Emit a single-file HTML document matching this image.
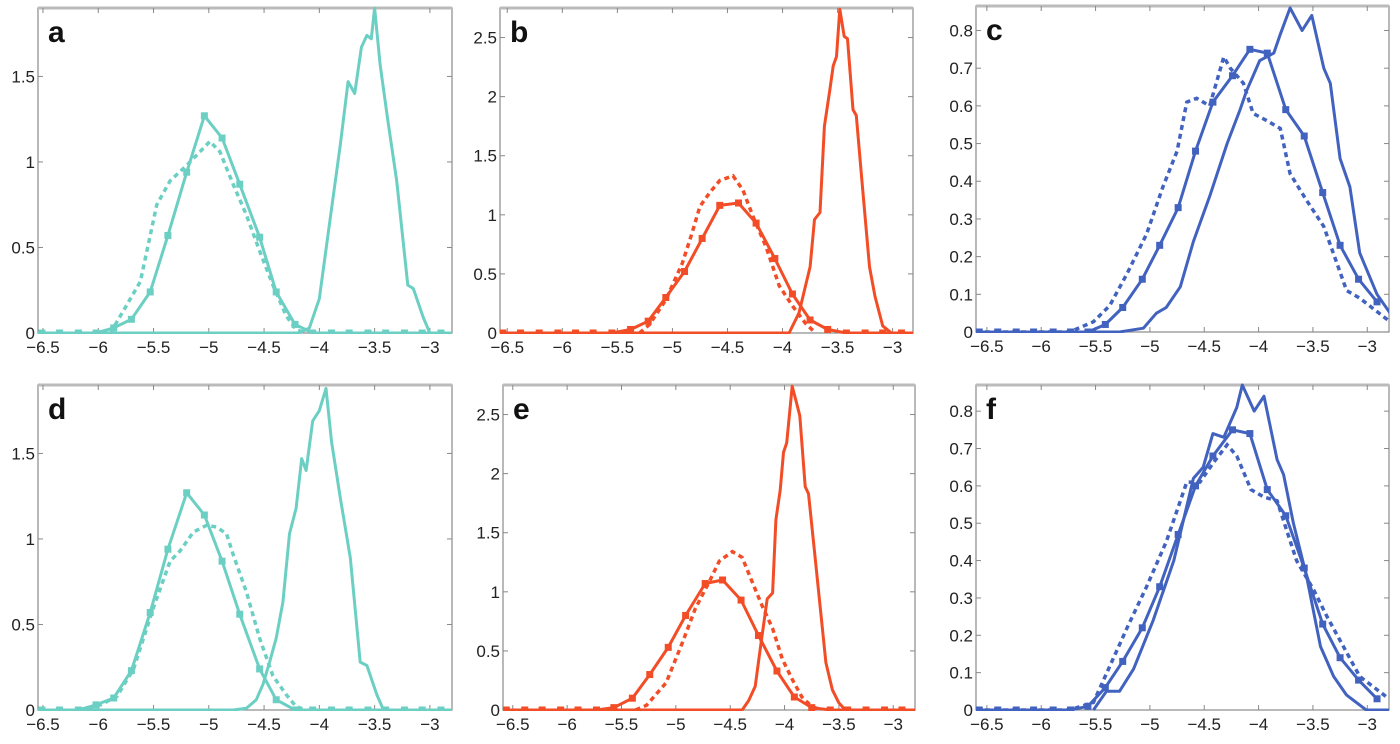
<!DOCTYPE html>
<html><head><meta charset="utf-8"><style>
body{margin:0;background:#fff;width:1400px;height:744px;overflow:hidden}
svg{display:block;font-family:"Liberation Sans",sans-serif}
</style></head><body>
<svg id="chart" width="1400" height="744"></svg>
<script>
// ---- data ----
const tealMarkX=[-6.51,-6.35,-6.18,-6.02,-5.86,-5.70,-5.53,-5.37,-5.20,-5.04,-4.88,-4.72,-4.54,-4.39,-4.22,-4.06,-3.89,-3.73,-3.56,-3.40,-3.23,-3.07,-2.90];
const aMarkY=[0,0,0,0,0.03,0.08,0.24,0.57,0.94,1.27,1.14,0.87,0.56,0.24,0.05,0,0,0,0,0,0,0,0];
const aDashX=[-5.89,-5.80,-5.62,-5.47,-5.35,-5.20,-5.08,-4.99,-4.90,-4.78,-4.66,-4.54,-4.42,-4.30,-4.21,-4.12];
const aDashY=[0,0.1,0.3,0.75,0.89,0.98,1.06,1.12,1.06,0.87,0.69,0.48,0.28,0.1,0.02,0];
const aSharpX=[-6.55,-4.18,-4.09,-4.00,-3.91,-3.81,-3.74,-3.68,-3.62,-3.57,-3.53,-3.50,-3.45,-3.38,-3.30,-3.20,-3.15,-3.06,-3.00,-2.80];
const aSharpY=[0,0,0.03,0.2,0.63,1.1,1.47,1.4,1.67,1.74,1.72,1.9,1.57,1.24,0.89,0.28,0.26,0.09,0,0];

const redMarkX=[-6.54,-6.38,-6.21,-6.04,-5.88,-5.72,-5.55,-5.38,-5.22,-5.06,-4.89,-4.73,-4.57,-4.40,-4.24,-4.07,-3.91,-3.75,-3.59,-3.42,-3.25,-3.09,-2.92];
const bMarkY=[0,0,0,0,0,0,0,0.03,0.1,0.3,0.52,0.8,1.08,1.1,0.93,0.63,0.33,0.11,0.03,0,0,0,0];
const bDashX=[-5.30,-5.21,-5.06,-4.91,-4.82,-4.75,-4.66,-4.57,-4.45,-4.36,-4.27,-4.15,-4.03,-3.91,-3.79,-3.70];
const bDashY=[0,0.07,0.28,0.59,0.85,1.07,1.19,1.29,1.33,1.21,0.99,0.73,0.4,0.23,0.08,0];
const bSharpX=[-6.57,-3.94,-3.85,-3.75,-3.71,-3.66,-3.62,-3.57,-3.54,-3.51,-3.48,-3.44,-3.41,-3.36,-3.33,-3.28,-3.21,-3.16,-3.09,-3.01,-2.81];
const bSharpY=[0,0,0.17,0.56,0.96,1.02,1.75,2.06,2.26,2.34,2.74,2.51,2.49,1.89,1.84,1.3,0.56,0.31,0.06,0,0];

const blueMarkX=[-6.57,-6.40,-6.23,-6.07,-5.89,-5.73,-5.57,-5.41,-5.25,-5.07,-4.91,-4.74,-4.58,-4.42,-4.24,-4.08,-3.92,-3.75,-3.58,-3.41,-3.25,-3.08,-2.91];
const cMarkY=[0,0,0,0,0,0,0,0.02,0.065,0.14,0.23,0.33,0.48,0.61,0.68,0.75,0.74,0.59,0.52,0.37,0.23,0.14,0.08];
const cDashX=[-6.6,-5.74,-5.52,-5.37,-5.21,-5.03,-4.88,-4.75,-4.66,-4.57,-4.45,-4.32,-4.26,-4.14,-4.05,-3.92,-3.80,-3.71,-3.56,-3.40,-3.19,-3.07,-2.79];
const cDashY=[0,0,0.027,0.07,0.155,0.26,0.385,0.48,0.61,0.62,0.6,0.73,0.7,0.66,0.58,0.56,0.54,0.42,0.35,0.28,0.11,0.09,0.027];
const cSharpX=[-6.6,-5.28,-5.06,-4.94,-4.85,-4.72,-4.60,-4.45,-4.29,-4.17,-4.11,-3.99,-3.86,-3.80,-3.71,-3.60,-3.51,-3.40,-3.34,-3.25,-3.16,-3.07,-2.91,-2.79];
const cSharpY=[0,0,0.01,0.05,0.065,0.12,0.24,0.36,0.5,0.59,0.64,0.72,0.74,0.79,0.86,0.8,0.84,0.7,0.66,0.46,0.385,0.21,0.1,0.05];

const dMarkY=[0,0,0,0.03,0.07,0.23,0.57,0.94,1.27,1.14,0.87,0.56,0.24,0.06,0,0,0,0,0,0,0,0,0];
const dDashX=[-6.17,-5.98,-5.83,-5.68,-5.50,-5.35,-5.26,-5.14,-5.02,-4.93,-4.84,-4.78,-4.66,-4.54,-4.42,-4.30,-4.21,-4.12];
const dDashY=[0,0.03,0.08,0.24,0.6,0.87,0.93,1.04,1.08,1.07,1.03,0.91,0.69,0.42,0.2,0.09,0.02,0];
const dSharpX=[-6.55,-4.78,-4.66,-4.57,-4.51,-4.45,-4.39,-4.33,-4.27,-4.21,-4.16,-4.12,-4.06,-4.00,-3.94,-3.89,-3.81,-3.72,-3.63,-3.57,-3.48,-3.42,-2.80];
const dSharpY=[0,0,0.01,0.06,0.15,0.28,0.42,0.63,1.03,1.18,1.47,1.4,1.69,1.75,1.88,1.57,1.24,0.89,0.28,0.26,0.09,0,0];

const eMarkX=[-6.56,-6.39,-6.23,-6.06,-5.90,-5.73,-5.57,-5.40,-5.24,-5.07,-4.91,-4.73,-4.57,-4.40,-4.24,-4.07,-3.91,-3.75,-3.58,-3.42,-3.25,-3.08,-2.92];
const eMarkY=[0,0,0,0,0,0,0.02,0.1,0.3,0.53,0.8,1.07,1.1,0.93,0.63,0.33,0.11,0.02,0,0,0,0,0];
const eDashX=[-5.37,-5.27,-5.09,-4.94,-4.82,-4.69,-4.60,-4.48,-4.39,-4.30,-4.21,-4.11,-4.02,-3.93,-3.84,-3.75,-3.66];
const eDashY=[0,0.04,0.23,0.57,0.86,1.09,1.26,1.34,1.29,1.09,0.89,0.69,0.43,0.26,0.11,0.03,0];
const eSharpX=[-6.59,-4.39,-4.33,-4.27,-4.22,-4.16,-4.11,-4.08,-4.04,-4.01,-3.98,-3.93,-3.89,-3.86,-3.81,-3.78,-3.72,-3.62,-3.56,-3.50,-3.44,-2.80];
const eSharpY=[0,0,0.08,0.2,0.54,0.94,0.99,1.61,1.86,2.18,2.26,2.74,2.6,2.49,1.89,1.83,1.3,0.4,0.17,0.06,0,0];

const fMarkY=[0,0,0,0,0,0,0.01,0.06,0.13,0.22,0.33,0.47,0.6,0.68,0.75,0.74,0.59,0.52,0.38,0.23,0.14,0.08,0.03];
const fDashX=[-6.6,-5.74,-5.52,-5.21,-5.03,-4.85,-4.66,-4.54,-4.42,-4.29,-4.20,-4.07,-3.95,-3.83,-3.74,-3.65,-3.49,-3.37,-3.22,-3.07,-2.80];
const fDashY=[0,0,0.02,0.22,0.33,0.45,0.61,0.61,0.66,0.71,0.68,0.59,0.57,0.56,0.48,0.4,0.32,0.25,0.17,0.09,0.03];
const fSharpX=[-5.52,-5.40,-5.28,-5.15,-4.97,-4.78,-4.60,-4.51,-4.42,-4.32,-4.20,-4.15,-4.04,-3.95,-3.83,-3.77,-3.68,-3.56,-3.43,-3.31,-3.19,-3.01,-2.80];
const fSharpY=[0,0.05,0.05,0.11,0.24,0.4,0.62,0.65,0.74,0.73,0.81,0.87,0.8,0.84,0.67,0.63,0.5,0.36,0.17,0.09,0.04,0,0];

const xTicks=[-6.5,-6,-5.5,-5,-4.5,-4,-3.5,-3];
const xTickLabels=["\u22126.5","\u22126","\u22125.5","\u22125","\u22124.5","\u22124","\u22123.5","\u22123"];
const yTicksTeal=[0,0.5,1,1.5];
const yTicksRed=[0,0.5,1,1.5,2,2.5];
const yTicksBlue=[0,0.1,0.2,0.3,0.4,0.5,0.6,0.7,0.8];

// ---- drawing ----
const NS="http://www.w3.org/2000/svg";
const svg=document.getElementById('chart');
function mk(tag,attrs,parent){const e=document.createElementNS(NS,tag);for(const k in attrs)e.setAttribute(k,attrs[k]);(parent||svg).appendChild(e);return e;}
const TEAL='#6ccfc3',RED='#f24d26',BLUE='#4262bf';
const panels=[
 {id:'a',box:[38,8,452,333],xr:[-6.545,-2.80],ymax:1.90,col:TEAL,yt:yTicksTeal,m:[tealMarkX,aMarkY],d:[aDashX,aDashY],s:[aSharpX,aSharpY]},
 {id:'b',box:[500,8,913,333],xr:[-6.566,-2.815],ymax:2.75,col:RED,yt:yTicksRed,m:[redMarkX,bMarkY],d:[bDashX,bDashY],s:[bSharpX,bSharpY]},
 {id:'c',box:[976,6,1389,332],xr:[-6.60,-2.80],ymax:0.865,col:BLUE,yt:yTicksBlue,m:[blueMarkX,cMarkY],d:[cDashX,cDashY],s:[cSharpX,cSharpY]},
 {id:'d',box:[38,385,452,710],xr:[-6.545,-2.80],ymax:1.90,col:TEAL,yt:yTicksTeal,m:[tealMarkX,dMarkY],d:[dDashX,dDashY],s:[dSharpX,dSharpY]},
 {id:'e',box:[503,385,915,710],xr:[-6.59,-2.80],ymax:2.75,col:RED,yt:yTicksRed,m:[eMarkX,eMarkY],d:[eDashX,eDashY],s:[eSharpX,eSharpY]},
 {id:'f',box:[976,385,1389,710],xr:[-6.60,-2.80],ymax:0.87,col:BLUE,yt:yTicksBlue,m:[blueMarkX,fMarkY],d:[fDashX,fDashY],s:[fSharpX,fSharpY]}
];
panels.forEach(p=>{
 const [x0,y0,x1,y1]=p.box;
 const sx=v=>x0+(v-p.xr[0])/(p.xr[1]-p.xr[0])*(x1-x0);
 const sy=v=>y1-v/p.ymax*(y1-y0);
 const g=mk('g',{});
 
 
 const cp=mk('clipPath',{id:'clip'+p.id},g);mk('rect',{x:x0,y:y0-3,width:x1-x0,height:y1-y0+4},cp);
 const frame=mk('rect',{x:x0,y:y0,width:x1-x0,height:y1-y0,fill:'#fff',stroke:'#8a8a8a','stroke-width':1.2},g);
 
 
 mk('line',{x1:x0,y1:y0,x2:x1,y2:y0,stroke:'#bbb','stroke-width':3},g);
 xTicks.forEach((t,i)=>{
  const x=sx(t);
  mk('line',{x1:x,y1:y1,x2:x,y2:y1-5,stroke:'#888'},g);
  mk('line',{x1:x,y1:y0,x2:x,y2:y0+5,stroke:'#888'},g);
  const tx=mk('text',{x:x,y:y1+20,'text-anchor':'middle','font-size':17,fill:'#222'},g);
  tx.textContent=xTickLabels[i];
  
  
 });
 p.yt.forEach(t=>{
  const y=sy(t);
  mk('line',{x1:x0,y1:y,x2:x0+5,y2:y,stroke:'#888'},g);
  mk('line',{x1:x1,y1:y,x2:x1-5,y2:y,stroke:'#888'},g);
  const ty=mk('text',{x:x0-3,y:y+6,'text-anchor':'end','font-size':17,fill:'#222'},g);
  ty.textContent=String(t);
  
  
 });
 const lab=mk('text',{x:x0+10,y:y0+34,'font-size':30,'font-weight':'bold',fill:'#111'},g);
 lab.textContent=p.id;
 
 
 const pts=(xs,ys)=>xs.map((v,i)=>sx(v).toFixed(1)+','+sy(ys[i]).toFixed(1)).join(' ');
 const cg=mk('g',{'clip-path':'url(#clip'+p.id+')'},g);
 const ls=mk('polyline',{points:pts(p.s[0],p.s[1]),fill:'none',stroke:p.col,'stroke-width':3,'stroke-linejoin':'round'},cg);
 
 
 const ld=mk('polyline',{points:pts(p.d[0],p.d[1]),fill:'none',stroke:p.col,'stroke-width':3.5,'stroke-dasharray':'5,4'},cg);
 
 
 const lm=mk('polyline',{points:pts(p.m[0],p.m[1]),fill:'none',stroke:p.col,'stroke-width':3,'stroke-linejoin':'round'},cg);
 
 
 p.m[0].forEach((v,i)=>{
  const r=mk('rect',{x:sx(v)-3.5,y:sy(p.m[1][i])-3.5,width:7,height:7,fill:p.col},cg);
  
  
 });
});
</script>
</body></html>
